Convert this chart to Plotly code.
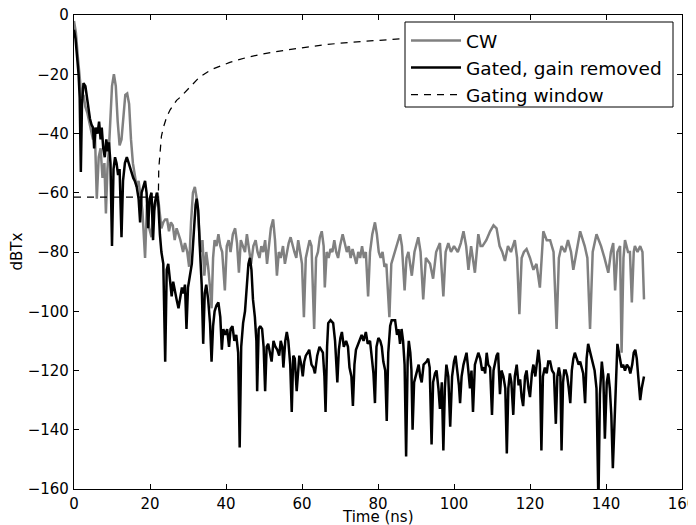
import plotly.graph_objects as go

# ---- CW (gray) ----
cw_t = [0.0, 0.5, 1.0, 1.5, 2.0, 2.5, 3.0, 3.5, 4.0, 4.5, 5.0, 5.5, 6.0, 6.5, 7.0, 7.5, 8.0, 8.4, 8.8,
        9.2, 9.6, 10.0, 10.5, 11.0, 11.5, 12.0, 12.5, 13.0, 13.5, 14.0, 14.5, 15.0, 15.5, 16.0, 16.5,
        17.0, 17.5, 18.0, 18.7, 19.2, 19.8, 20.4, 21.0, 21.5, 22.0, 22.5, 23.0, 23.5, 24.0, 24.5, 25.0,
        25.5, 26.0, 26.5, 27.0, 27.5, 28.0, 28.7, 29.2, 29.8, 30.3, 30.8, 31.3, 31.8, 32.3, 32.8, 33.3,
        33.8, 34.3, 34.8, 35.3, 35.8, 36.2, 36.6, 37.0, 37.5, 38.0, 38.5, 39.0, 39.7, 40.2, 40.7, 41.2,
        41.8, 42.4, 42.9, 43.4, 43.9, 44.4, 45.0, 45.5, 46.0, 46.6, 47.2, 47.8, 48.3, 48.8, 49.3, 49.8,
        50.3, 50.8, 51.3, 51.8, 52.4, 52.9, 53.4, 53.9, 54.4, 55.0, 55.5, 56.0, 56.5, 57.0, 57.5, 58.0,
        58.5, 59.0, 59.5, 60.0, 60.5, 61.0, 61.5, 62.0, 62.5, 63.2, 63.7, 64.2, 64.7, 65.2, 65.7, 66.0,
        66.5, 67.0, 67.5, 68.0, 68.5, 69.0, 69.5, 70.0, 70.7, 71.2, 71.8, 72.3, 72.8, 73.3, 73.8, 74.3,
        74.8, 75.3, 75.8, 76.3, 76.8, 77.4, 77.9, 78.5, 79.2, 79.7, 80.2, 80.7, 81.2, 81.7, 82.2, 83.0,
        83.5, 84.0, 84.5, 85.0, 85.8, 86.3, 87.0, 87.5, 88.0, 88.9, 89.6, 90.6, 91.2, 91.9, 92.6, 93.7,
        94.5, 95.3, 96.3, 97.2, 97.8, 98.5, 99.2, 100.0, 101.0, 101.8, 102.5, 103.2, 103.8, 104.5,
        105.5, 106.4, 107.0, 107.5, 108.5, 109.5, 110.4, 111.2, 112.0, 112.7, 113.4, 114.2, 115.0,
        116.0, 116.6, 117.2, 117.8, 118.4, 119.1, 120.0, 120.9, 121.7, 122.6, 123.5, 124.4, 125.3,
        126.2, 127.0, 127.6, 128.3, 129.2, 130.0, 130.8, 131.4, 132.3, 133.2, 134.4, 135.1, 135.8,
        136.5, 137.5, 138.7, 139.6, 140.6, 141.3, 141.9, 142.4, 143.0, 143.7, 144.1, 144.6, 145.0,
        145.8, 146.3, 146.8, 147.3, 147.6, 148.3, 149.0, 149.6, 150.0]
cw_db = [-2, -6, -14, -22, -28, -27, -31, -33, -36, -38, -42, -40, -62, -48, -45, -55, -50, -67, -52,
         -45, -35, -24, -20, -24, -36, -44, -42, -34, -27, -26.5, -30, -42, -50, -54, -58,
         -56, -62, -66, -82, -64, -72, -75, -66, -64, -60, -66, -72, -70, -69, -69, -73,
         -70, -71, -76, -72, -74, -76, -80, -77, -80, -85, -70, -60, -58, -62, -70, -80,
         -76, -88, -80, -85, -92, -99, -82, -76, -78, -74, -78, -80, -93, -78, -76, -80,
         -74, -72, -77, -87, -76, -78, -80, -74, -78, -84, -78, -76, -80, -82, -78, -80,
         -76, -84, -78, -72, -69, -76, -88, -80, -82, -78, -84, -80, -77, -75, -78, -80,
         -82, -76, -80, -84, -102, -82, -79, -76, -78, -106, -82, -80, -75, -73, -78, -92,
         -80, -82, -79, -80, -76, -80, -82, -78, -74, -77, -80, -78, -82, -79, -82, -84,
         -80, -82, -78, -82, -80, -95, -80, -74, -70, -74, -80, -82, -80, -85, -84, -102,
         -84, -82, -80, -78, -74, -78, -93, -82, -80, -88, -80, -75, -80, -96, -82, -84,
         -89, -80, -77, -95, -80, -77, -80, -78, -80, -77, -73, -78, -86, -78,
         -87, -74, -78, -78, -76, -73, -71, -72, -78, -80, -83, -78, -80,
         -76, -82, -101, -82, -80, -79, -82, -86, -84, -92, -73, -76, -76,
         -80, -106, -82, -78, -80, -76, -80, -86, -80, -73, -78, -82, -106,
         -80, -74, -78, -82, -87, -80, -77, -93, -80, -78, -114, -82, -76,
         -80, -80, -97, -80, -78, -80, -78, -80, -96]

# ---- Gated, gain removed (black) ----
gated_t = [0.0, 0.4, 0.8, 1.2, 1.5, 1.8, 2.1, 2.5, 3.0, 3.4, 3.8, 4.2, 4.6, 5.0, 5.3, 5.7, 6.2, 6.6,
           7.0, 7.3, 7.7, 8.1, 8.5, 8.9, 9.2, 9.6, 10.0, 10.4, 10.8, 11.2, 11.6, 12.0, 12.5, 12.9,
           13.4, 13.9, 14.4, 14.8, 15.2, 15.6, 16.0, 16.5, 17.0, 17.4, 17.8, 18.2, 18.7, 19.1, 19.5,
           19.9, 20.4, 20.8, 21.2, 21.8, 22.2, 22.6, 23.0, 23.5, 24.0, 24.4, 24.8, 25.3, 25.7, 26.1,
           26.6, 27.0, 27.5, 28.0, 28.4, 28.8, 29.2, 29.6, 30.0, 30.5, 31.0, 31.5, 32.0, 32.3, 32.7,
           33.1, 33.6, 34.0, 34.4, 34.8, 35.3, 35.8, 36.2, 36.6, 37.0, 37.5, 38.0, 38.5, 38.9, 39.3,
           39.8, 40.3, 40.8, 41.2, 41.7, 42.2, 42.7, 43.2, 43.6, 44.0, 44.5, 45.0, 45.5, 45.9, 46.3,
           46.7, 47.1, 47.6, 48.0, 48.2, 48.6, 49.0, 49.5, 49.9, 50.3, 50.7, 51.1, 51.6, 52.0, 52.5,
           53.0, 53.5, 54.0, 54.4, 54.8, 55.1, 55.6, 56.0, 56.4, 56.9, 57.3, 57.7, 58.1, 58.6, 59.0,
           59.3, 59.8, 60.2, 60.6, 61.0, 61.5, 61.9, 62.5, 63.0, 63.4, 64.0, 64.6, 65.1, 65.5, 65.9,
           66.2, 66.6, 66.9, 67.5, 68.2, 68.7, 69.0, 69.3, 69.7, 70.1, 70.5, 71.0, 71.6, 72.1, 72.5,
           73.0, 73.4, 73.8, 74.2, 74.5, 75.0, 75.7, 76.2, 76.8, 77.3, 77.9, 78.4, 78.8, 79.2, 79.6,
           80.1, 80.6, 81.0, 81.4, 81.9, 82.3, 82.7, 83.2, 83.6, 84.0, 84.5, 85.0, 85.4, 85.8, 86.2,
           86.6, 87.0, 87.4, 87.8, 88.1, 88.5, 88.8, 89.1, 89.5, 90.2, 90.7, 91.1, 91.5, 92.0, 92.8,
           93.2, 93.6, 94.1, 94.5, 95.0, 95.4, 95.9, 96.3, 96.8, 97.2, 97.6, 98.0, 98.5, 99.0, 99.5,
           100.0, 100.4, 100.9, 101.3, 101.6, 102.0, 102.5, 103.3, 103.7, 104.2, 104.6, 105.0, 105.5,
           106.0, 106.4, 106.9, 107.4, 107.9, 108.2, 108.6, 109.0, 109.5, 110.0, 110.4, 110.8, 111.2,
           111.6, 112.1, 112.5, 113.0, 113.5, 113.9, 114.3, 114.7, 115.1, 115.6, 116.0, 116.5, 117.0,
           117.4, 117.8, 118.2, 118.7, 119.1, 119.6, 120.0, 120.5, 120.9, 121.4, 121.8, 122.2, 122.6,
           123.0, 123.4, 123.9, 124.4, 124.8, 125.3, 125.8, 126.3, 126.8, 127.2, 127.6, 128.0, 128.3,
           128.7, 129.0, 129.4, 129.8, 130.2, 130.6, 131.0, 131.4, 131.8, 132.3, 132.8, 133.2, 133.6,
           134.0, 134.5, 134.9, 135.3, 135.8, 136.4, 137.0, 137.5, 138.0, 138.4, 138.9, 139.3, 139.7,
           140.2, 140.6, 141.0, 141.4, 141.8, 142.2, 142.6, 143.0, 143.4, 144.1, 144.5, 145.0, 145.5,
           146.0, 146.4, 146.9, 147.3, 147.7, 148.1, 148.5, 149.0, 149.4, 150.0]
gated_db = [-5, -8, -14, -20, -28, -53, -30, -23, -24, -28, -32, -35, -37, -38, -45, -38, -40, -36,
            -42, -38, -45, -48, -42, -46, -43, -50, -78, -52, -48, -50, -54, -52, -75, -56,
            -50, -48, -50, -52, -53, -55, -56, -58, -62, -70, -60, -58, -56, -60, -72,
            -62, -60, -76, -64, -60, -64, -74, -80, -84, -117, -86, -84, -90, -95, -90,
            -94, -96, -99, -95, -92, -94, -91, -106, -92, -88, -84, -74, -64, -62, -66,
            -78, -91, -111, -94, -91, -96, -104, -117, -105, -100, -98, -97, -102, -113, -106,
            -108, -106, -112, -106, -105, -110, -108, -114, -146, -112, -104, -100, -92, -84, -82,
            -86, -96, -102, -110, -127, -106, -105, -106, -112, -127, -112, -111, -114, -117, -110,
            -112, -113, -115, -110, -112, -119, -110, -107, -110, -118, -134, -115, -116, -127, -118,
            -115, -118, -122, -117, -115, -114, -113, -118, -119, -121, -115, -112, -113, -114, -122,
            -134, -112, -104, -103, -104, -110, -116, -124, -113, -109, -107, -112, -110, -112, -119,
            -122, -132, -118, -113, -112, -110, -108, -110, -107, -111, -110, -116, -121, -131, -112,
            -109, -110, -112, -117, -120, -137, -114, -105, -103, -103, -103, -108, -106, -111, -106,
            -110, -118, -149, -117, -110, -114, -120, -140, -124, -121, -118, -122, -124, -118, -117,
            -116, -119, -145, -124, -121, -120, -126, -133, -124, -147, -126, -118, -122, -139, -122,
            -117, -115, -120, -125, -131, -122, -118, -114, -119, -126, -120, -134, -118,
            -116, -114, -116, -120, -119, -121, -114, -118, -119, -135, -120, -117, -115,
            -114, -128, -120, -122, -126, -148, -126, -121, -124, -135, -122, -118, -125,
            -123, -129, -132, -122, -120, -126, -129, -121, -118, -122, -117, -113, -118,
            -147, -122, -119, -121, -117, -117, -120, -121, -138, -122, -119, -122, -147,
            -124, -120, -120, -122, -126, -131, -120, -116, -114, -116, -118, -117, -119,
            -121, -131, -116, -111, -114, -117, -120, -126, -165, -128, -117, -122, -143,
            -124, -121, -126, -135, -153, -140, -122, -111, -114, -119, -118, -120, -118,
            -119, -121, -118, -114, -113, -116, -122, -130, -126, -122]

# ---- Gating window (dashed) ----
window_t = [0.0, 22.2, 22.3, 22.6, 23.0, 23.5, 24.4, 25.3, 27.0, 28.0, 30.3, 33.0, 36.0, 41.0, 45.0,
            49.0, 55.0, 60.0, 66.0, 73.0, 80.0, 86.0, 95.0, 105.0, 115.0, 125.0, 135.0, 150.0]
window_db = [-61.5, -61.5, -52, -47, -41, -38, -34.4, -32, -28.8, -27.7, -24.6, -21, -18.5, -16, -14.5,
             -13.3, -12, -11, -10, -9.2, -8.5, -7.9, -7.2, -6.5, -6.0, -5.5, -5.1, -4.5]

x_ticks = [0, 20, 40, 60, 80, 100, 120, 140, 160]
y_ticks = [0, -20, -40, -60, -80, -100, -120, -140, -160]

FONT = "DejaVu Sans"

# page has an 8px body margin: figure coordinates are page coordinates minus 8
W, H = 696, 525
ML, MR, MT, MB = 66, 22, 7, 44
PW, PH = W - ML - MR, H - MT - MB


def px(xp):   # page x -> paper x
    return (xp - 8 - ML) / PW


def py(yp):   # page y -> paper y
    return 1 - (yp - 8 - MT) / PH


fig = go.Figure()
fig.add_trace(go.Scatter(x=cw_t, y=cw_db, mode="lines", name="CW",
                         line=dict(color="#808080", width=2.5)))
fig.add_trace(go.Scatter(x=gated_t, y=gated_db, mode="lines", name="Gated, gain removed",
                         line=dict(color="black", width=2.5)))
fig.add_trace(go.Scatter(x=window_t, y=window_db, mode="lines", name="Gating window",
                         line=dict(color="black", width=1.25, dash="7px,6px")))

axis_common = dict(showgrid=False, zeroline=False, showline=True, linecolor="black", linewidth=1.25,
                   mirror="allticks", ticks="inside", ticklen=5, tickwidth=1, tickcolor="black",
                   automargin=False, ticklabeloverflow="allow",
                   tickfont=dict(family=FONT, size=15, color="black"))
fig.update_xaxes(range=[0, 160], tickvals=x_ticks, ticklabelstandoff=1, **axis_common)
fig.update_yaxes(range=[-160, 0], tickvals=y_ticks, ticklabelstandoff=1, **axis_common)

fig.add_annotation(text="Time (ns)", xref="paper", yref="paper", x=0.5, y=py(517),
                   xanchor="center", yanchor="middle", showarrow=False,
                   font=dict(family=FONT, size=15, color="black"))
fig.add_annotation(text="dBTx", xref="paper", yref="paper", x=px(16.5), y=0.5,
                   xanchor="center", yanchor="middle", showarrow=False, textangle=-90,
                   font=dict(family=FONT, size=15, color="black"))

# legend frame (white box hiding the curve beneath, as in the reference)
fig.add_shape(type="rect", xref="paper", yref="paper", layer="above",
              x0=px(405), x1=px(673), y0=py(107), y1=py(22),
              line=dict(color="black", width=1), fillcolor="white")

fig.update_layout(
    width=W, height=H,
    margin=dict(l=ML, r=MR, t=MT, b=MB),
    paper_bgcolor="white", plot_bgcolor="white",
    font=dict(family=FONT, color="black"),
    legend=dict(x=px(405), y=py(21), xanchor="left", yanchor="top",
                bgcolor="rgba(0,0,0,0)", bordercolor="rgba(0,0,0,0)", borderwidth=1,
                font=dict(family=FONT, size=18.5, color="black"),
                itemwidth=50, entrywidth=268, entrywidthmode="pixels"),
    showlegend=True,
)

fig.write_html("out.html")
